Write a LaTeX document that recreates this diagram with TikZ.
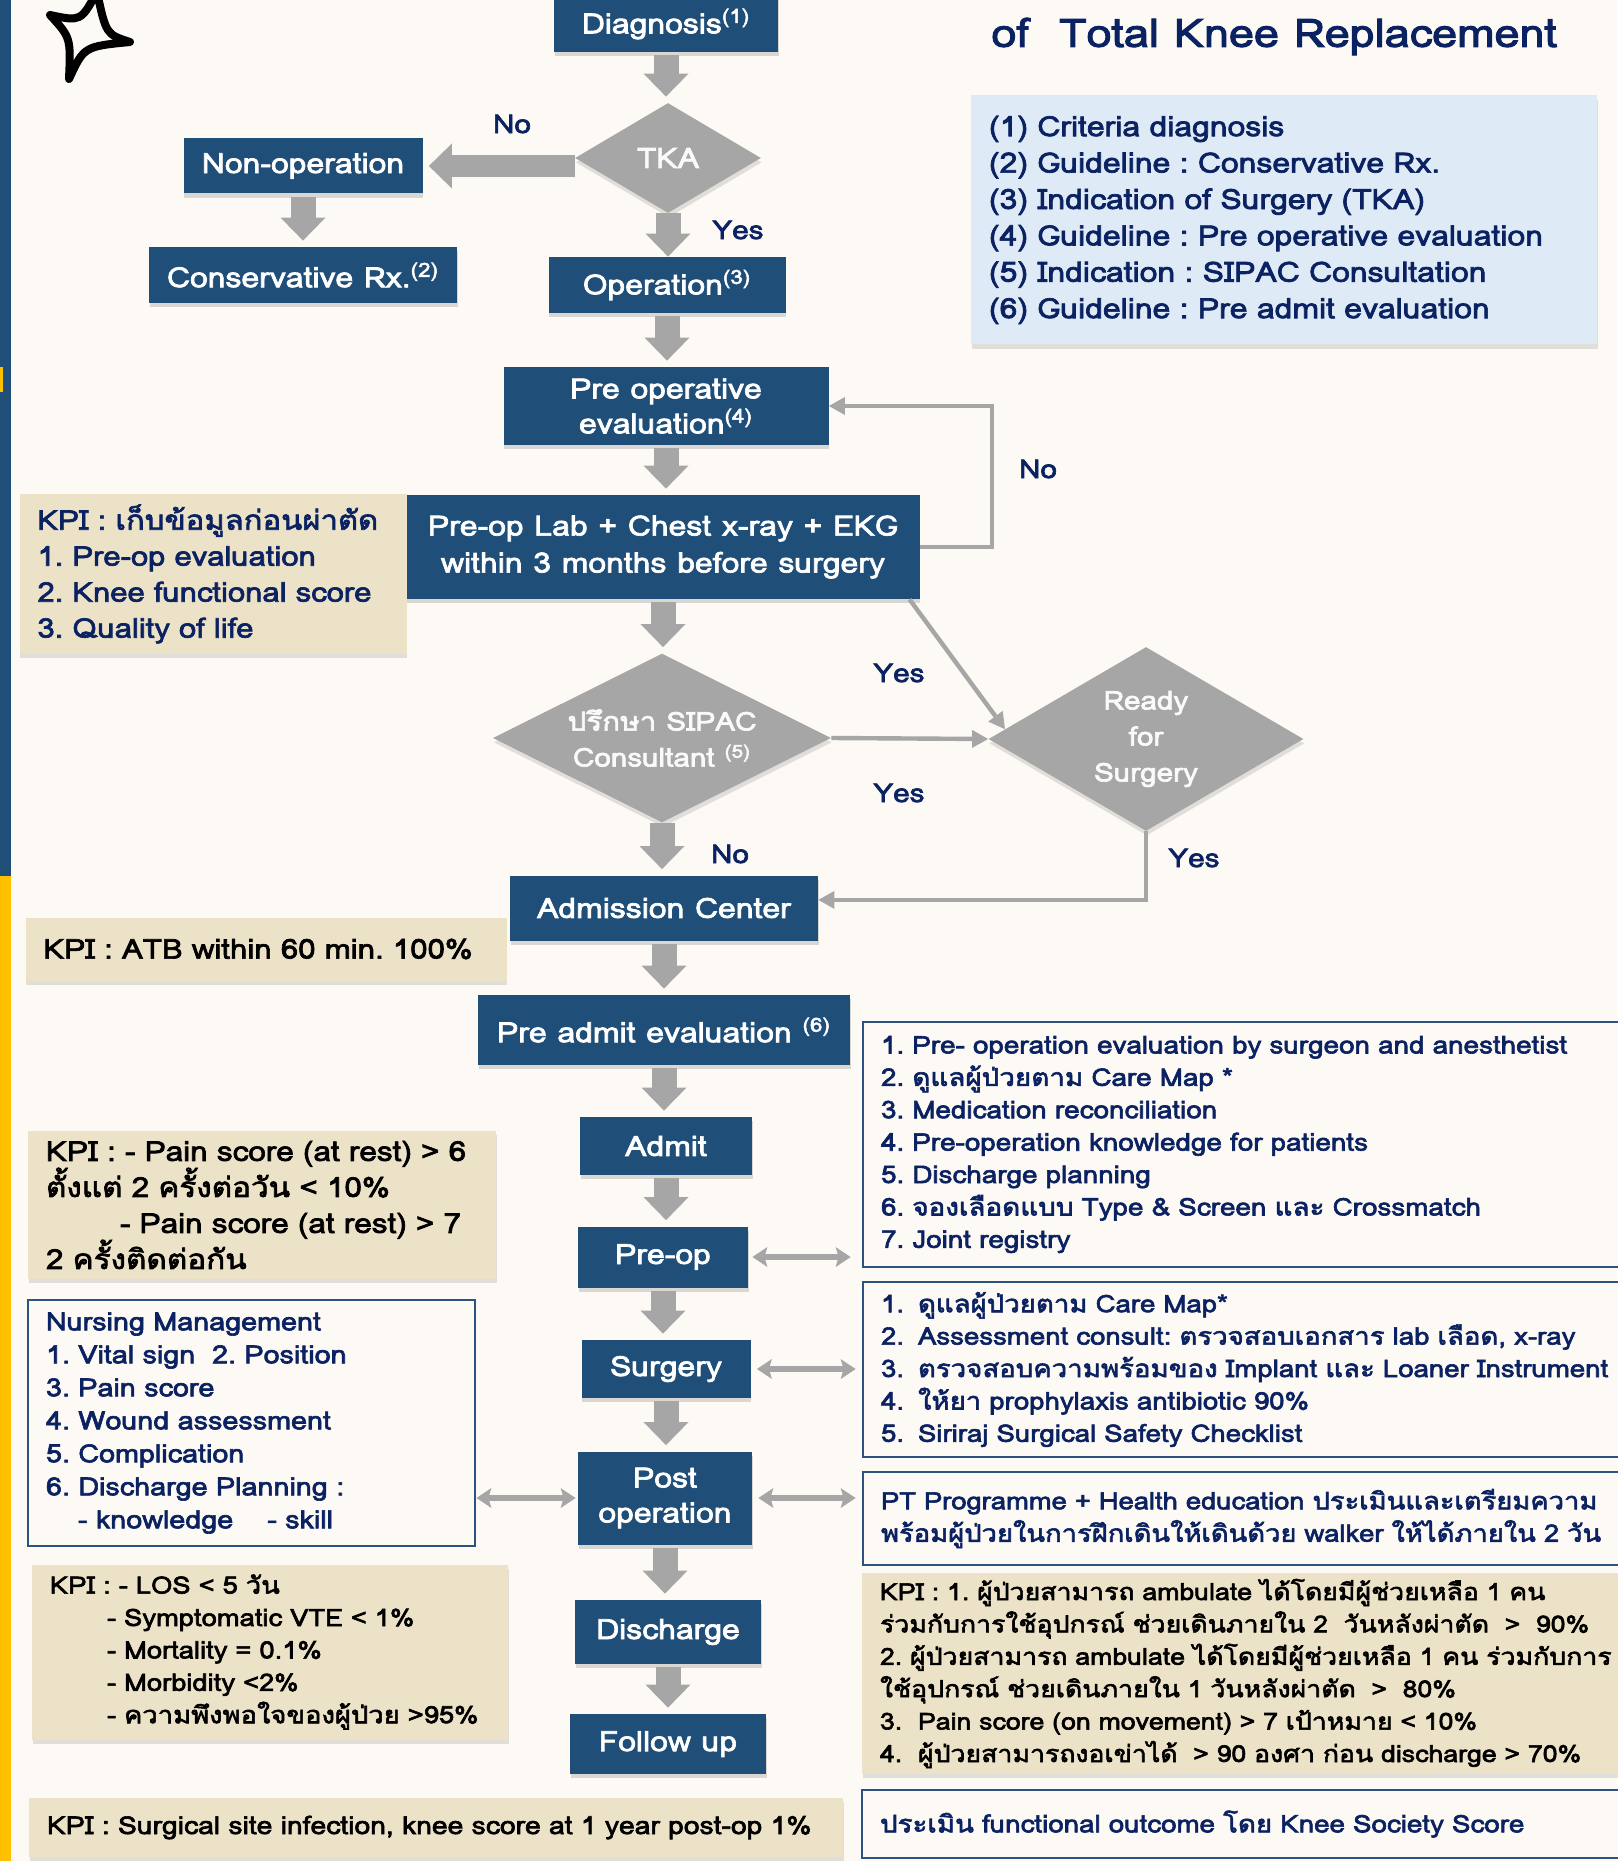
\documentclass[tikz,border=0pt]{standalone}
\usepackage{fontspec}
\setmainfont[Script=Thai,FakeStretch=1.14,BoldFont=Loma,BoldFeatures={FakeBold=2.5}]{Loma}
\usetikzlibrary{arrows.meta,shapes.geometric,shadows}
\frenchspacing

\definecolor{pagecream}{HTML}{FDF9F4}
\definecolor{boxblue}{HTML}{1F4E79}
\definecolor{flowgray}{HTML}{A6A6A6}
\definecolor{labelnavy}{HTML}{0B2262}
\definecolor{kpibeige}{HTML}{ECE2C7}
\definecolor{legendblue}{HTML}{DEEAF6}
\definecolor{listline}{HTML}{2B5281}
\definecolor{stripeyellow}{HTML}{FFC000}

\tikzstyle{flowbox}=[fill=boxblue,
                     text=white,
                     inner sep=0pt,
                     align=center,
                     font=\bfseries\fontsize{14}{17.5}\selectfont,
                     drop shadow={shadow xshift=0.4pt,shadow yshift=-2.2pt,opacity=0.28}]
\tikzstyle{decision}=[diamond,
                      aspect=2,
                      fill=flowgray,
                      text=white!94!flowgray,
                      inner sep=0pt,
                      align=center,
                      font=\bfseries\fontsize{13}{18}\selectfont,
                      drop shadow={shadow xshift=0.4pt,shadow yshift=-2.2pt,opacity=0.22}]
\tikzstyle{notebox}=[align=left,
                     inner xsep=9pt,
                     inner ysep=0pt,
                     font=\bfseries\fontsize{12}{16.2}\selectfont]
\tikzstyle{kpibox}=[notebox,
                    fill=kpibeige,
                    text=black,
                    drop shadow={shadow xshift=0.4pt,shadow yshift=-2.2pt,opacity=0.22}]
\tikzstyle{listbox}=[notebox,
                     draw=listline,
                     line width=1.4pt,
                     fill=pagecream,
                     text=labelnavy]
\tikzstyle{answer}=[text=labelnavy,
                    inner sep=0pt,
                    font=\bfseries\fontsize{13}{15}\selectfont]
\tikzstyle{bigarrow}=[draw=flowgray,
                      line width=12.5pt,
                      -{Triangle[width=22.5pt,length=11.5pt,line width=0pt]},
                      shorten <=1.5pt,
                      shorten >=3pt]
\tikzstyle{thinarrow}=[draw=flowgray,
                       line width=2.2pt,
                       -{Triangle[width=9pt,length=8pt,line width=0pt]}]
\tikzstyle{twoway}=[draw=flowgray,
                    line width=3pt,
                    {Stealth[width=10pt,length=7.5pt,inset=1.5pt,line width=0pt]}-{Stealth[width=10pt,length=7.5pt,inset=1.5pt,line width=0pt]}]

\begin{document}
\begin{tikzpicture}[x=0.5pt,y=-0.5pt]
    \fill[pagecream] (0,0) rectangle (1617,1861);
    \useasboundingbox (0,0) rectangle (1617,1861);
    \fill[boxblue] (0,0) rectangle (11,876);
    \fill[stripeyellow] (0,876) rectangle (11,1861);
    \fill[stripeyellow] (0,367) rectangle (3,392);

    % sparkle
    \draw[line width=4pt,line join=round,line cap=round] (50,15) .. controls (80.8,21.5) .. (97,-8)
        .. controls (106.1,34.3) .. (130,42) .. controls (84.1,46.5) .. (69,79)
        .. controls (70.8,37.7) .. cycle;

    \node[anchor=base west,text=labelnavy,inner sep=0pt,
          font=\bfseries\fontsize{19.7}{24}\selectfont] (title) at (991,47)
          {of\ \ Total Knee Replacement};

    \node[notebox,fill=legendblue,text=labelnavy,text width=295pt,minimum height=124.5pt,
          font=\bfseries\fontsize{14}{18.2}\selectfont,
          drop shadow={shadow xshift=0.4pt,shadow yshift=-2.2pt,opacity=0.22}] (legend) at (1284,220)
          {(1) Criteria diagnosis\\
           (2) Guideline : Conservative Rx.\\
           (3) Indication of Surgery (TKA)\\
           (4) Guideline : Pre operative evaluation\\
           (5) Indication : SIPAC Consultation\\
           (6) Guideline : Pre admit evaluation};

    % main flow
    \node[flowbox,minimum width=112pt,minimum height=28pt] (diag) at (666,24) {Diagnosis\textsuperscript{(1)}};
    \node[decision,minimum width=93pt,minimum height=55pt,font=\bfseries\fontsize{14}{17}\selectfont] (tka) at (668,158) {TKA};
    \node[flowbox,minimum width=119.5pt,minimum height=27.5pt] (nonop) at (303,166) {Non-operation};
    \node[flowbox,minimum width=154pt,minimum height=28pt] (conserv) at (303,275) {Conservative Rx.\textsuperscript{(2)}};
    \node[flowbox,minimum width=118.5pt,minimum height=28pt] (oper) at (667,285) {Operation\textsuperscript{(3)}};
    \node[flowbox,minimum width=162.5pt,minimum height=39pt] (preopeval) at (666,406) {Pre operative\\evaluation\textsuperscript{(4)}};
    \node[flowbox,minimum width=256.5pt,minimum height=52pt,font=\bfseries\fontsize{14}{18.5}\selectfont] (preoplab) at (663,547)
          {Pre-op Lab + Chest x-ray + EKG\\within 3 months before surgery};
    \node[decision,minimum width=169pt,minimum height=84.5pt] (sipac) at (662,738) {ปรึกษา SIPAC\\Consultant \textsuperscript{(5)}};
    \node[decision,minimum width=157.5pt,minimum height=92pt] (ready) at (1146,739) {Ready\\for\\Surgery};
    \node[flowbox,minimum width=154pt,minimum height=32.5pt] (admission) at (664,908) {Admission Center};
    \node[flowbox,minimum width=186pt,minimum height=35pt] (preadmit) at (664,1030) {Pre admit evaluation \textsuperscript{(6)}};
    \node[flowbox,minimum width=86pt,minimum height=29pt] (admit) at (666,1146) {Admit};
    \node[flowbox,minimum width=85pt,minimum height=30.5pt] (preop) at (663,1257) {Pre-op};
    \node[flowbox,minimum width=84.5pt,minimum height=29pt] (surgery) at (666,1369) {Surgery};
    \node[flowbox,minimum width=87pt,minimum height=46.5pt] (post) at (665,1498) {Post\\operation};
    \node[flowbox,minimum width=93pt,minimum height=32pt] (discharge) at (668,1632) {Discharge};
    \node[flowbox,minimum width=98pt,minimum height=30pt] (followup) at (668,1744) {Follow up};

    % KPI and note boxes
    \node[kpibox,text=labelnavy,text width=175.5pt,minimum height=80pt,
          font=\bfseries\fontsize{13.6}{18}\selectfont] (kpipre) at (213,574)
          {KPI : เก็บข้อมูลก่อนผ่าตัด\\
           1. Pre-op evaluation\\
           2. Knee functional score\\
           3. Quality of life};
    \node[kpibox,text width=222.5pt,minimum height=31.5pt,font=\bfseries\fontsize{13.7}{17}\selectfont] (kpiatb) at (266,949)
          {KPI : ATB within 60 min. 100\%};
    \node[kpibox,text width=216pt,minimum height=74pt,font=\bfseries\fontsize{13.8}{18}\selectfont] (kpipain) at (262,1205)
          {KPI : - Pain score (at rest) > 6\\
           ตั้งแต่ 2 ครั้งต่อวัน < 10\%\\
           \hspace*{37pt}- Pain score (at rest) > 7\\
           2 ครั้งติดต่อกัน};
    \node[listbox,text width=205.5pt,minimum height=123pt,font=\bfseries\fontsize{12.6}{16.5}\selectfont] (nursing) at (251.5,1423)
          {Nursing Management\\
           1. Vital sign\ \ 2. Position\\
           3. Pain score\\
           4. Wound assessment\\
           5. Complication\\
           6. Discharge Planning :\\
           \hspace*{16pt}- knowledge\hspace{17pt}- skill};
    \node[kpibox,text width=220pt,minimum height=87.5pt] (kpilos) at (270,1652)
          {KPI : - LOS < 5 วัน\\
           \hspace*{28.5pt}- Symptomatic VTE < 1\%\\
           \hspace*{28.5pt}- Mortality = 0.1\%\\
           \hspace*{28.5pt}- Morbidity <2\%\\
           \hspace*{28.5pt}- ความพึงพอใจของผู้ป่วย >95\%};
    \node[kpibox,text width=389pt,minimum height=29.5pt,font=\bfseries\fontsize{12.4}{16}\selectfont] (kpissi) at (436,1827.5)
          {KPI : Surgical site infection, knee score at 1 year post-op 1\%};

    \node[listbox,text width=400.5pt,minimum height=122.5pt,font=\bfseries\fontsize{12.2}{16.2}\selectfont] (careone) at (1281.5,1144.5)
          {1. Pre- operation evaluation by surgeon and anesthetist\\
           2. ดูแลผู้ป่วยตาม Care Map *\\
           3. Medication reconciliation\\
           4. Pre-operation knowledge for patients\\
           5. Discharge planning\\
           6. จองเลือดแบบ Type \& Screen และ Crossmatch\\
           7. Joint registry};
    \node[listbox,text width=400.5pt,minimum height=87.5pt,font=\bfseries\fontsize{12.1}{16.2}\selectfont] (caretwo) at (1281.5,1369.5)
          {\makebox[18.5pt][l]{1.}ดูแลผู้ป่วยตาม Care Map*\\
           \makebox[18.5pt][l]{2.}Assessment consult: ตรวจสอบเอกสาร lab เลือด, x-ray\\
           \makebox[18.5pt][l]{3.}ตรวจสอบความพร้อมของ Implant และ Loaner Instrument\\
           \makebox[18.5pt][l]{4.}ให้ยา prophylaxis antibiotic 90\%\\
           \makebox[18.5pt][l]{5.}Siriraj Surgical Safety Checklist};
    \node[listbox,text width=400.5pt,minimum height=46.5pt] (carethree) at (1281.5,1518.5)
          {PT Programme + Health education ประเมินและเตรียมความ\\
           พร้อมผู้ป่วยในการฝึกเดินให้เดินด้วย walker ให้ได้ภายใน 2 วัน};
    \node[kpibox,text width=401pt,minimum height=100.5pt,font=\bfseries\fontsize{11.7}{16.2}\selectfont] (kpiwalk) at (1281,1673.5)
          {KPI : 1. ผู้ป่วยสามารถ ambulate ได้โดยมีผู้ช่วยเหลือ 1 คน\\
           ร่วมกับการใช้อุปกรณ์ ช่วยเดินภายใน 2\ \ วันหลังผ่าตัด\ \ >\ \ 90\%\\
           2. ผู้ป่วยสามารถ ambulate ได้โดยมีผู้ช่วยเหลือ 1 คน ร่วมกับการ\\
           ใช้อุปกรณ์ ช่วยเดินภายใน 1 วันหลังผ่าตัด\ \ >\ \ 80\%\\
           \makebox[19pt][l]{3.}Pain score (on movement) > 7 เป้าหมาย < 10\%\\
           \makebox[19pt][l]{4.}ผู้ป่วยสามารถงอเข่าได้\ \ > 90 องศา ก่อน discharge > 70\%};
    \node[listbox,text width=401pt,minimum height=34pt,font=\bfseries\fontsize{12.15}{16}\selectfont] (kneescore) at (1281,1824)
          {ประเมิน functional outcome โดย Knee Society Score};

    % answers
    \node[answer] (notka) at (512,124) {No};
    \node[answer] (yestka) at (738,230) {Yes};
    \node[answer] (noloop) at (1038,469) {No};
    \node[answer] (yeslab) at (899,673) {Yes};
    \node[answer] (yessipac) at (899,793) {Yes};
    \node[answer] (nosipac) at (730,854) {No};
    \node[answer] (yesready) at (1194,858) {Yes};

    % connectors
    \draw[bigarrow] (diag.south) -- (diag.south |- tka.north);
    \draw[bigarrow,line width=11pt,shorten <=0pt] (tka.west |- nonop.east) -- (nonop.east);
    \draw[bigarrow] (nonop.south) -- (nonop.south |- conserv.north);
    \draw[bigarrow,shorten <=0pt,shorten >=0pt] (tka.south) -- (tka.south |- oper.north);
    \draw[bigarrow] (oper.south) -- (oper.south |- preopeval.north);
    \draw[bigarrow] (preopeval.south) -- (preopeval.south |- preoplab.north);
    \draw[bigarrow] (preoplab.south) -- (preoplab.south |- sipac.north);
    \draw[bigarrow,shorten <=0pt] (sipac.south) -- (sipac.south |- admission.north);
    \draw[bigarrow] (admission.south) -- (admission.south |- preadmit.north);
    \draw[bigarrow] (preadmit.south) -- (preadmit.south |- admit.north);
    \draw[bigarrow] (admit.south) -- (admit.south |- preop.north);
    \draw[bigarrow] (preop.south) -- (preop.south |- surgery.north);
    \draw[bigarrow] (surgery.south) -- (surgery.south |- post.north);
    \draw[bigarrow] (post.south) -- (post.south |- discharge.north);
    \draw[bigarrow] (discharge.south) -- (discharge.south |- followup.north);

    \draw[thinarrow] (preoplab.east) -- ++(72,0) |- (preopeval.east);
    \draw[thinarrow] (preoplab.-12.5) -- (ready.176);
    \draw[thinarrow] (sipac.east) -- (ready.west);
    \draw[thinarrow] (ready.south) |- (admission.3);

    \draw[twoway,shorten <=2pt,shorten >=5.5pt] (preop.east) -- (careone.west |- preop.east);
    \draw[twoway,shorten <=3pt,shorten >=3pt] (surgery.east) -- (caretwo.west |- surgery.east);
    \draw[twoway,shorten <=3pt,shorten >=3pt] (post.east) -- (carethree.west |- post.east);
    \draw[twoway,shorten <=0pt,shorten >=1pt] (nursing.east |- post.west) -- (post.west);
\end{tikzpicture}
\end{document}
